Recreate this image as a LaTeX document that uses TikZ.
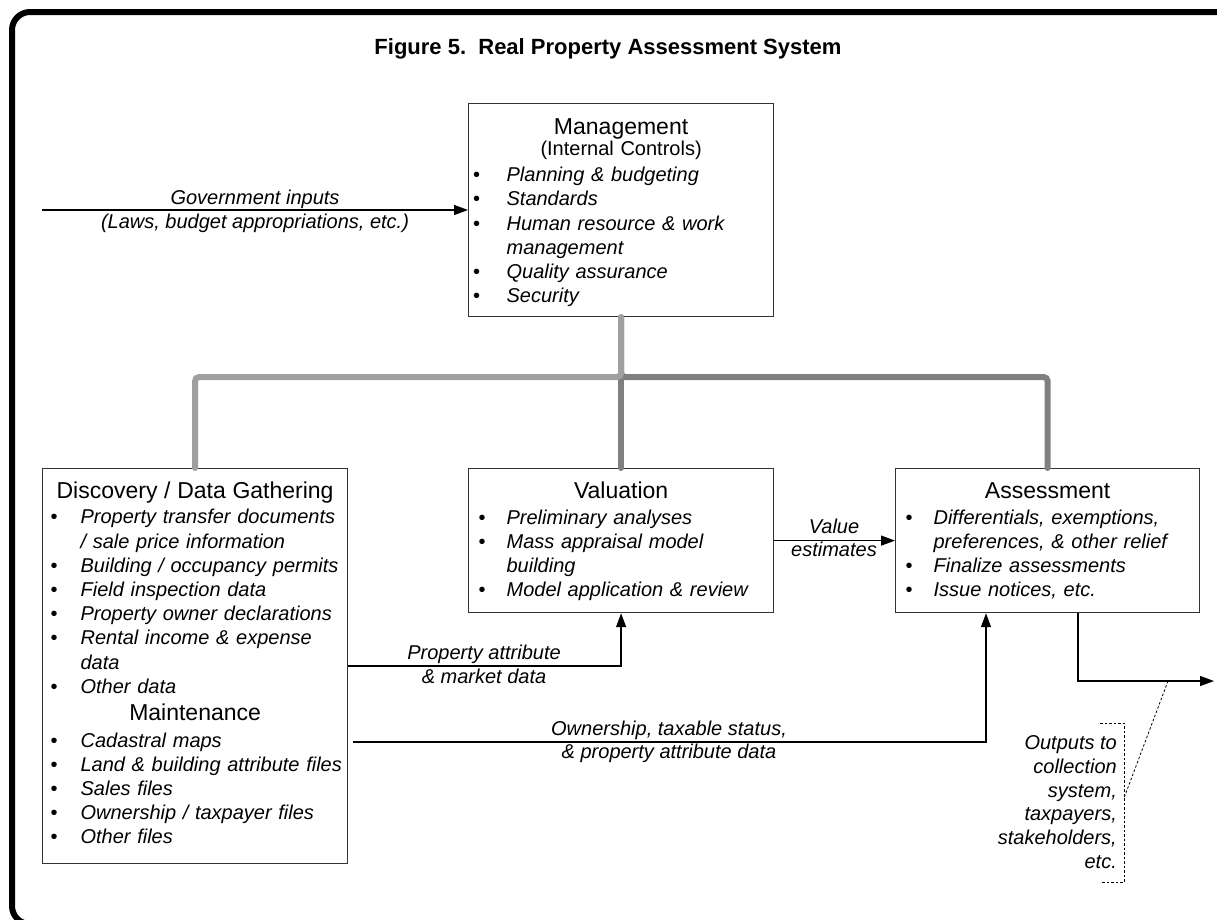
\documentclass[tikz,border=0pt]{standalone}
\usepackage{fontspec}
\setmainfont{Liberation Sans}
\usetikzlibrary{arrows.meta,calc}

\definecolor{buslight}{HTML}{A0A0A0}
\definecolor{busdark}{HTML}{808080}
\definecolor{boxline}{HTML}{333333}

% bullet list helpers for the boxes
\newlength\bulletoff
\newlength\bulletind
\setlength\bulletind{38pt}
\newcommand{\brk}{\hfil\break}
\newcommand{\itm}[1]{\par\noindent\hangindent=\bulletind\hangafter=1\makebox[\bulletind][l]{\hspace{\bulletoff}\textbullet}\textit{#1}\par}
\newcommand{\hdg}[1]{\par{\centering\fontsize{23pt}{24.2pt}\selectfont #1\par}}

\begin{document}
\begin{tikzpicture}[x=1pt,y=-1pt,
  frame/.style={draw=black, line width=6pt, rounded corners=18pt},
  box/.style={draw=boxline, line width=1.2pt, fill=white, inner sep=0pt, anchor=north west},
  blocktext/.style={anchor=north, inner sep=0pt, text width=#1, align=left,
    font=\fontsize{20pt}{24.2pt}\selectfont},
  title/.style={anchor=base, inner sep=0pt, font=\fontsize{22pt}{26pt}\selectfont\bfseries},
  lbl/.style={anchor=base, inner sep=0pt, font=\fontsize{20pt}{24pt}\selectfont\itshape},
  flow/.style={draw=black, line width=1.3pt, -{Triangle[length=14pt,width=10pt]}},
  bus/.style={line width=6pt, line cap=round, rounded corners=4pt},
  callout/.style={draw=black, line width=0.8pt, dash pattern=on 2.5pt off 2pt}
]
\useasboundingbox (0,0) rectangle (1217,919);
\fill[white] (0,0) rectangle (1217,919);

% outer frame, open beyond the right and bottom page edges
\draw[frame] (12,12) rectangle (1260,924);

% title
\node[title] (title) at (608,54) {Figure 5.\ \ Real Property Assessment System};

% boxes
\node[box, minimum width=305pt, minimum height=213pt] (mgmt) at (468,103) {};
\node[box, minimum width=305pt, minimum height=395pt] (disc) at (42,468) {};
\node[box, minimum width=305pt, minimum height=144pt] (val) at (468,468) {};
\node[box, minimum width=304pt, minimum height=144pt] (assess) at (895,468) {};

% box contents
\node[blocktext=305pt] (mgmttext) at ($(mgmt.north)+(0,7.5)$) {%
  \setlength\bulletoff{4.5pt}%
  \hdg{\rule{0pt}{20pt}Management}
  \vspace{-3.8pt}
  {\centering (Internal Controls)\par}
  \vspace{2.2pt}
  \itm{Planning \& budgeting}
  \itm{Standards}
  \itm{Human resource \& work\brk management}
  \itm{Quality assurance}
  \itm{Security}};

\node[blocktext=305pt] (disctext) at ($(disc.north)+(0,6.5)$) {%
  \setlength\bulletoff{8pt}%
  \hdg{\rule{0pt}{20pt}Discovery / Data Gathering}
  \vspace{0.8pt}
  \itm{Property transfer documents\brk / sale price information}
  \itm{Building / occupancy permits}
  \itm{Field inspection data}
  \itm{Property owner declarations}
  \itm{Rental income \& expense\brk data}
  \itm{Other data}
  \vspace{3pt}
  \hdg{Maintenance}
  \vspace{2.3pt}
  \itm{Cadastral maps}
  \itm{Land \& building attribute files}
  \itm{Sales files}
  \itm{Ownership / taxpayer files}
  \itm{Other files}};

\node[blocktext=305pt] (valtext) at ($(val.north)+(0,6.5)$) {%
  \setlength\bulletoff{10pt}%
  \hdg{\rule{0pt}{20pt}Valuation}
  \vspace{1.2pt}
  \itm{Preliminary analyses}
  \itm{Mass appraisal model\brk building}
  \itm{Model application \& review}};

\node[blocktext=304pt] (assesstext) at ($(assess.north)+(0,6.5)$) {%
  \setlength\bulletoff{10pt}%
  \hdg{\rule{0pt}{20pt}Assessment}
  \vspace{1.2pt}
  \itm{Differentials, exemptions,\brk preferences, \& other relief}
  \itm{Finalize assessments}
  \itm{Issue notices, etc.}};

% grey control bus from Management to the three process boxes
\coordinate (busy) at (0,377);
\draw[bus, draw=busdark] (mgmt.south) -- (mgmt.south |- busy) -| (assess.north);
\draw[bus, draw=busdark] (mgmt.south |- busy) -- (val.north);
\draw[bus, draw=buslight] (mgmt.south) -- (mgmt.south |- busy) -| (disc.north);

% government inputs
\coordinate (govstart) at (42,210);
\draw[flow] (govstart) -- (govstart -| mgmt.west);
\node[lbl] (govtop) at (255,204) {Government inputs};
\node[lbl] (govbot) at (255,228) {(Laws, budget appropriations, etc.)};

% value estimates
\draw[flow] (val.east) -- (assess.west);
\node[lbl] (valtop) at (834,533) {Value};
\node[lbl] (valbot) at (834,556) {estimates};

% property attribute data to valuation
\coordinate (propy) at (0,666);
\draw[flow] (disc.east |- propy) -| (val.south);
\node[lbl] (proptop) at (484,659) {Property attribute};
\node[lbl] (propbot) at (484,683) {\& market data};

% ownership data to assessment
\coordinate (ownstart) at (353,742);
\coordinate (ownx) at (986,0);
\draw[flow] (ownstart) -| (ownx |- assess.south);
\node[lbl] (owntop) at (669,735) {Ownership, taxable status,};
\node[lbl] (ownbot) at (669,758) {\& property attribute data};

% outputs
\coordinate (outx) at (1078,0);
\coordinate (outend) at (1214,681);
\draw[flow] (outx |- assess.south) |- (outend);

% callout for the outputs
\coordinate (calltip) at (1168,681);
\coordinate (callmid) at (1124,798);
\coordinate (brtop) at (1100,723);
\coordinate (brbot) at (1100,882);
\draw[callout] (calltip) -- (callmid);
\draw[callout] (brtop) -| (callmid) |- (brbot);
\node[anchor=north east, inner sep=0pt, align=right,
  font=\fontsize{20pt}{23.8pt}\selectfont\itshape] (outlbl) at (1117,729.3)
  {\rule{0pt}{20pt}Outputs to\\collection\\system,\\taxpayers,\\stakeholders,\\etc.};
\end{tikzpicture}
\end{document}
